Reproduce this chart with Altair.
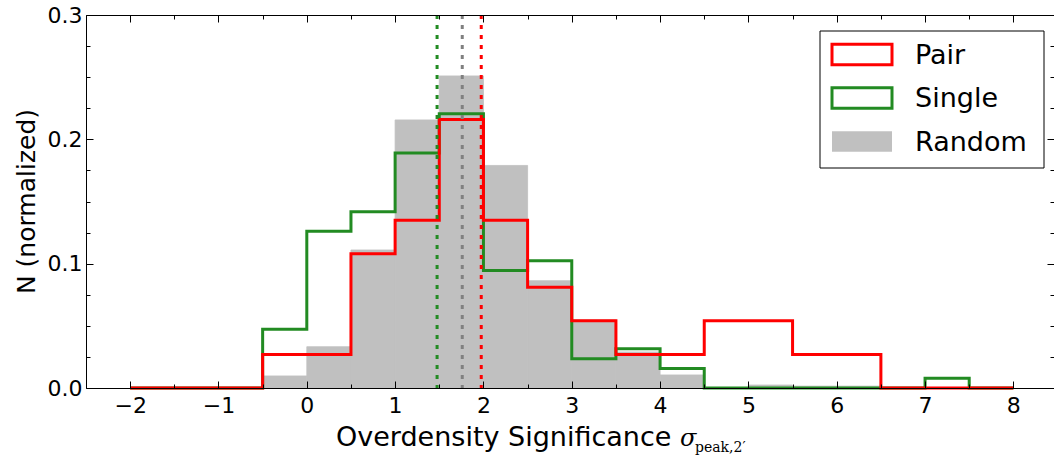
import altair as alt
import pandas as pd

# ---------------- data ----------------
bin_left = [-2.0, -1.5, -1.0, -0.5, 0.0, 0.5, 1.0, 1.5, 2.0, 2.5,
            3.0, 3.5, 4.0, 4.5, 5.0, 5.5, 6.0, 6.5, 7.0, 7.5]
bin_width = 0.5

pair = [0, 0, 0, 0.027, 0.027, 0.108, 0.135, 0.216, 0.135, 0.081,
        0.054, 0.027, 0.027, 0.054, 0.054, 0.027, 0.027, 0, 0, 0]
single = [0, 0, 0, 0.0472, 0.126, 0.1417, 0.189, 0.2205, 0.0945, 0.1024,
          0.0236, 0.0315, 0.0157, 0, 0, 0, 0, 0, 0.0079, 0]
random_ = [0, 0, 0, 0.0097, 0.0332, 0.111, 0.2156, 0.251, 0.179, 0.0863,
           0.0547, 0.029, 0.0105, 0, 0.0024, 0.0015, 0.0015, 0, 0, 0]

medians = [1.475, 1.76, 1.975]
median_names = ["Single", "Random", "Pair"]

series_order = ["Pair", "Single", "Random"]
series_colors = ["#ff0000", "#228b22", "#c0c0c0"]

x_ticks = [-2, -1, 0, 1, 2, 3, 4, 5, 6, 7, 8]
x_minor = [-2.5, -1.5, -0.5, 0.5, 1.5, 2.5, 3.5, 4.5, 5.5, 6.5, 7.5]
y_ticks = [0.0, 0.1, 0.2, 0.3]
y_minor = [0.025, 0.05, 0.075, 0.125, 0.15, 0.175, 0.225, 0.25, 0.275]

W, H = 968, 373
FONT = "DejaVu Sans"

# ---------------- tables ----------------
bars = pd.DataFrame({
    "left": bin_left,
    "right": [b + bin_width for b in bin_left],
    "value": random_,
})

def step_table(vals, name):
    xs = bin_left + [bin_left[-1] + bin_width]
    ys = list(vals) + [0]
    return pd.DataFrame({"edge": xs, "value": ys, "series": name})

pair_df = step_table(pair, "Pair")
single_df = step_table(single, "Single")
med_df = pd.DataFrame({"x": medians, "who": median_names})

xscale = alt.Scale(domain=[-2.5, 8.46], nice=False, zero=False)
yscale = alt.Scale(domain=[0, 0.3], nice=False, zero=True)

base_axis = dict(grid=False, title=None, zindex=1, tickColor="black",
                 domainColor="black", tickWidth=1, domainWidth=1)

# ---------------- marks ----------------
bar_layer = alt.Chart(bars).mark_rect(color="#c0c0c0", stroke="#c0c0c0", strokeWidth=0.8,
                                      opacity=1).encode(
    x=alt.X("left:Q", scale=xscale,
            axis=alt.Axis(orient="bottom", values=x_ticks, format="d", ticks=False,
                          tickSize=0, labelFont=FONT, labelFontSize=22, labelColor="black",
                          labelPadding=7, domain=True, **base_axis)),
    x2="right:Q",
    y=alt.Y("value:Q", scale=yscale,
            axis=alt.Axis(orient="left", values=y_ticks, format=".1f", ticks=False,
                          tickSize=0, labelFont=FONT, labelFontSize=22, labelColor="black",
                          labelPadding=4, domain=True, **base_axis)),
    y2=alt.datum(0),
)

def line_layer(df, color, xaxis, yaxis):
    return alt.Chart(df).mark_line(interpolate="step-after", color=color, strokeWidth=3,
                                   strokeJoin="miter", strokeCap="butt").encode(
        x=alt.X("edge:Q", scale=xscale, axis=xaxis),
        y=alt.Y("value:Q", scale=yscale, axis=yaxis),
    )

pair_layer = line_layer(
    pair_df, series_colors[0],
    alt.Axis(orient="top", offset=-H, values=x_ticks, labels=False, domain=False, tickSize=7, **base_axis),
    alt.Axis(orient="right", offset=-W, values=y_ticks, labels=False, domain=False, tickSize=7, **base_axis),
)
single_layer = line_layer(
    single_df, series_colors[1],
    alt.Axis(orient="top", offset=-H, values=x_minor, labels=False, domain=False, tickSize=4, **base_axis),
    alt.Axis(orient="right", offset=-W, values=y_minor, labels=False, domain=False, tickSize=4, **base_axis),
)

def dummy_layer(xaxis, yaxis):
    return alt.Chart(bars).mark_point(size=0, opacity=0).encode(
        x=alt.X("left:Q", scale=xscale, axis=xaxis),
        y=alt.Y("value:Q", scale=yscale, axis=yaxis),
    )

top_major = dummy_layer(
    alt.Axis(orient="bottom", offset=-H, values=x_ticks, labels=False, domain=True, tickSize=7, **base_axis),
    alt.Axis(orient="left", offset=-W, values=y_ticks, labels=False, domain=False, tickSize=7, **base_axis),
)
top_minor = dummy_layer(
    alt.Axis(orient="bottom", offset=-H, values=x_minor, labels=False, domain=False, tickSize=4, **base_axis),
    alt.Axis(orient="left", offset=-W, values=y_minor, labels=False, domain=False, tickSize=4, **base_axis),
)

rules = alt.Chart(med_df).mark_rule(strokeWidth=3, strokeDash=[4, 6]).encode(
    x=alt.X("x:Q", scale=xscale, axis=None),
    color=alt.Color("who:N", scale=alt.Scale(domain=["Pair", "Single", "Random"],
                                             range=["#ff0000", "#228b22", "#808080"]),
                    legend=None),
)

# ---------------- legend (drawn as a framed box) ----------------
one = pd.DataFrame({"k": [0]})
legend_frame = alt.Chart(one).mark_rect(fill="white", stroke="black", strokeWidth=1).encode(
    x=alt.value(734), x2=alt.value(958), y=alt.value(16), y2=alt.value(153))

legend_rows = [39.5, 83.0, 126.5]
legend_parts = []
for name, color, cy in zip(series_order, series_colors, legend_rows):
    if name == "Random":
        sym = alt.Chart(one).mark_rect(fill=color, strokeWidth=0)
    else:
        sym = alt.Chart(one).mark_rect(fill="transparent", stroke=color, strokeWidth=3,
                                       strokeJoin="miter")
    legend_parts.append(sym.encode(x=alt.value(746), x2=alt.value(806),
                                   y=alt.value(cy - 10.25), y2=alt.value(cy + 10.25)))
    legend_parts.append(
        alt.Chart(pd.DataFrame({"t": [name]})).mark_text(
            font=FONT, fontSize=27, align="left", baseline="middle", color="black").encode(
            x=alt.value(829), y=alt.value(cy + 1), text="t:N"))

# ---------------- titles ----------------
xtitle = alt.Chart(pd.DataFrame({"t": ["Overdensity Significance"]})).mark_text(
    font=FONT, fontSize=27, align="left", baseline="alphabetic", color="black").encode(
    x=alt.value(250), y=alt.value(431), text="t:N")
sigma = alt.Chart(pd.DataFrame({"t": ["σ"]})).mark_text(
    font="DejaVu Serif", fontSize=24, fontStyle="italic", align="left",
    baseline="alphabetic", color="black").encode(
    x=alt.value(594), y=alt.value(431), text="t:N")
sub = alt.Chart(pd.DataFrame({"t": ["peak,2′"]})).mark_text(
    font="DejaVu Serif", fontSize=14, align="left", baseline="alphabetic", color="black").encode(
    x=alt.value(609), y=alt.value(437), text="t:N")
ytitle = alt.Chart(pd.DataFrame({"t": ["N (normalized)"]})).mark_text(
    font=FONT, fontSize=25, align="center", baseline="alphabetic", angle=270, color="black").encode(
    x=alt.value(-51), y=alt.value(H / 2), text="t:N")

chart = alt.layer(
    bar_layer, single_layer, pair_layer, rules, top_major, top_minor,
    legend_frame, *legend_parts, xtitle, sigma, sub, ytitle,
).resolve_axis(x="independent", y="independent").properties(
    width=W, height=H,
    autosize=alt.AutoSizeParams(type="none"),
    padding={"left": 86, "top": 15, "right": 0, "bottom": 70},
    background="white",
).configure_view(stroke=None)

chart.save("out.html", embed_options={"renderer": "svg", "actions": False})
